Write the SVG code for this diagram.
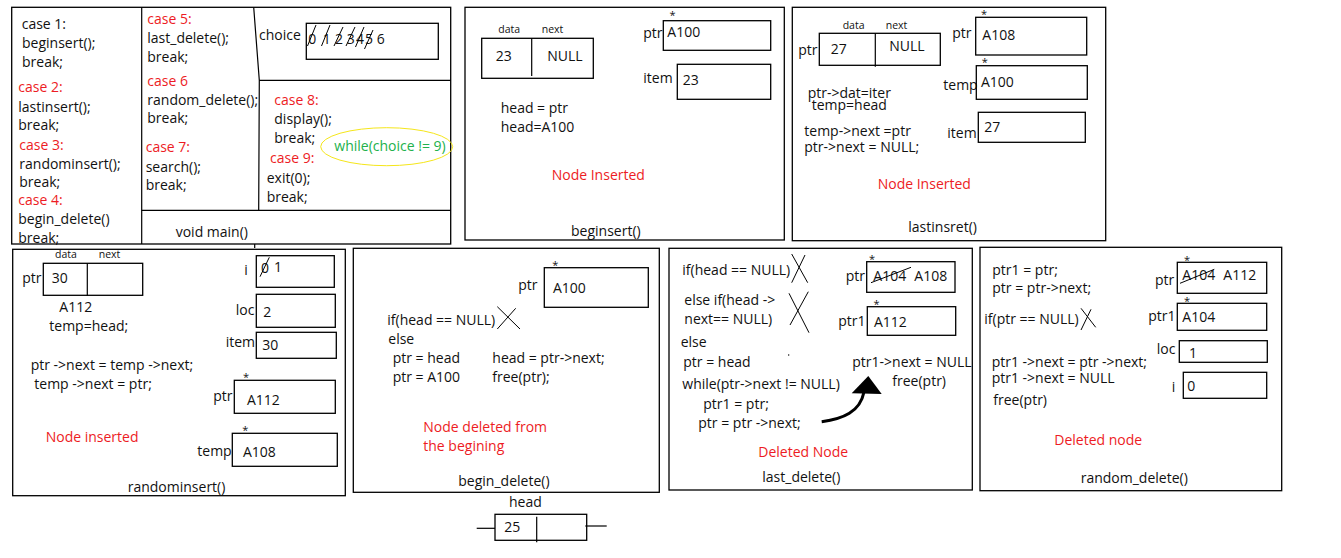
<svg xmlns="http://www.w3.org/2000/svg" width="1341" height="558" viewBox="0 0 1341 558">
<style>
text{font-family:"Open Sans","Noto Sans","DejaVu Sans",sans-serif;font-size:14px;fill:#111}
.r{fill:#ed1c24}
.g{fill:#22b14c}
.s{font-size:10.5px}
.st{font-size:11px}
.b{fill:none;stroke:#000;stroke-width:1.3}
.l{stroke:#000;stroke-width:1.2;fill:none}
.x{stroke:#000;stroke-width:1;fill:none}
</style>
<rect width="1341" height="558" fill="#fff"/>

<g id="main">
<rect class="b" x="11.7" y="7.3" width="439" height="236.7"/>
<line class="l" x1="141.7" y1="7.3" x2="141.7" y2="244"/>
<line class="l" x1="141.7" y1="210.3" x2="450.7" y2="210.3"/>
<polyline class="l" points="253.7,7.3 259.3,80.3 258.7,210.3"/>
<line class="l" x1="259.3" y1="80.3" x2="450.7" y2="80.3"/>
<line class="l" x1="254.7" y1="244" x2="254.7" y2="248"/>
<rect class="b" x="306.3" y="23.3" width="132" height="36"/>
<text x="21.7" y="29.3">case 1:</text>
<text x="22" y="48">beginsert();</text>
<text x="22" y="66.7">break;</text>
<text class="r" x="18.3" y="92">case 2:</text>
<text x="18.3" y="111.7">lastinsert();</text>
<text x="18.3" y="130">break;</text>
<text class="r" x="19.3" y="150">case 3:</text>
<text x="19.3" y="169">randominsert();</text>
<text x="19.3" y="187.3">break;</text>
<text class="r" x="18.3" y="205">case 4:</text>
<text x="18.3" y="224">begin_delete()</text>
<text x="18.3" y="242.7">break;</text>
<text class="r" x="147.3" y="24">case 5:</text>
<text x="147.3" y="43">last_delete();</text>
<text x="147.3" y="61.7">break;</text>
<text class="r" x="147.3" y="86">case 6</text>
<text x="147.3" y="105">random_delete();</text>
<text x="147.3" y="123.3">break;</text>
<text class="r" x="145.7" y="152.3">case 7:</text>
<text x="145.7" y="171.7">search();</text>
<text x="145.7" y="190">break;</text>
<text x="259" y="40">choice</text>
<text x="308.3" y="44.3">0</text>
<text x="322.7" y="44.3">1</text>
<text x="335" y="44.3">2</text>
<text x="346.7" y="44.3">3</text>
<text x="356" y="44.3">4</text>
<text x="365" y="44.3">5</text>
<text x="376.7" y="44.3">6</text>
<line class="x" x1="307.5" y1="46" x2="316" y2="25"/>
<line class="x" x1="321.5" y1="46" x2="330" y2="25"/>
<line class="x" x1="334" y1="46" x2="343" y2="27"/>
<line class="x" x1="346" y1="46" x2="355" y2="27"/>
<line class="x" x1="355.5" y1="47" x2="364" y2="27"/>
<line class="x" x1="364.5" y1="49" x2="373" y2="30"/>
<text class="r" x="274.3" y="105.3">case 8:</text>
<text x="274.3" y="124">display();</text>
<text x="274.3" y="143.3">break;</text>
<text class="r" x="270" y="163.3">case 9:</text>
<text x="266.7" y="182.7">exit(0);</text>
<text x="266.7" y="201.7">break;</text>
<ellipse cx="386.7" cy="146.7" rx="66" ry="19" fill="none" stroke="#f5e61a" stroke-width="1"/>
<text class="g" x="334.3" y="150.7">while(choice != 9)</text>
<text x="175.7" y="237.3">void main()</text>
</g>

<g id="beginsert">
<rect class="b" x="465" y="7.3" width="319.3" height="232.7"/>
<rect class="b" x="481.7" y="38.3" width="111.6" height="40"/>
<line class="l" x1="531.7" y1="38.3" x2="531.7" y2="76"/>
<text class="s" x="498.3" y="33.3">data</text>
<text class="s" x="541.7" y="33.3">next</text>
<text x="495.7" y="60.7">23</text>
<text x="547.3" y="60.7">NULL</text>
<text x="643.3" y="38.3">ptr</text>
<text class="st" x="669.5" y="19">*</text>
<rect class="b" x="663.3" y="20.7" width="107.4" height="29.6"/>
<text x="667.3" y="37.3">A100</text>
<text x="643.3" y="83.3">item</text>
<rect class="b" x="677.3" y="64.3" width="93.4" height="35"/>
<text x="682.7" y="85">23</text>
<text x="500.7" y="113.3">head = ptr</text>
<text x="500.7" y="132.3">head=A100</text>
<text class="r" x="551.7" y="180">Node Inserted</text>
<text x="571" y="236">beginsert()</text>
</g>

<g id="lastinsert">
<rect class="b" x="792.3" y="7.3" width="313.4" height="233.4"/>
<rect class="b" x="819.3" y="33.3" width="121" height="32"/>
<line class="l" x1="875.3" y1="33.3" x2="875.3" y2="66.7"/>
<text class="s" x="842.7" y="29.3">data</text>
<text class="s" x="885.7" y="29.3">next</text>
<text x="798.3" y="55">ptr</text>
<text x="830.7" y="54.3">27</text>
<text x="889.3" y="50.7">NULL</text>
<text x="952.3" y="38.3">ptr</text>
<text class="st" x="981" y="17.5">*</text>
<rect class="b" x="975.7" y="17.3" width="111" height="37.7"/>
<text x="982.3" y="40">A108</text>
<text x="943.3" y="90">temp</text>
<text class="st" x="981.7" y="65.5">*</text>
<rect class="b" x="976.3" y="65.7" width="111" height="33.6"/>
<text x="981" y="87.3">A100</text>
<text x="947.3" y="138.3">item</text>
<rect class="b" x="978.3" y="112.3" width="107" height="30"/>
<text x="984.3" y="131.7">27</text>
<text x="807.7" y="97.7">ptr-&gt;dat=iter</text>
<text x="811.7" y="110">temp=head</text>
<text x="804.3" y="135.7">temp-&gt;next =ptr</text>
<text x="804.3" y="152.3">ptr-&gt;next = NULL;</text>
<text class="r" x="877.7" y="189">Node Inserted</text>
<text x="908.3" y="231.7">lastinsret()</text>
</g>

<g id="randominsert">
<rect class="b" x="12.7" y="249.3" width="332.6" height="246.4"/>
<rect class="b" x="43.3" y="263.3" width="99.4" height="32"/>
<line class="l" x1="87.3" y1="263.3" x2="87.3" y2="296"/>
<text class="s" x="55" y="258.3">data</text>
<text class="s" x="98.7" y="258.3">next</text>
<text x="22.3" y="283.3">ptr</text>
<text x="51.7" y="283.3">30</text>
<text x="59.3" y="311.7">A112</text>
<text x="49.3" y="330.7">temp=head;</text>
<text x="30.7" y="370">ptr -&gt;next = temp -&gt;next;</text>
<text x="34.3" y="389">temp -&gt;next = ptr;</text>
<text class="r" x="45.7" y="441.7">Node inserted</text>
<text x="127.7" y="491.7">randominsert()</text>
<text x="244.3" y="275">i</text>
<rect class="b" x="256.3" y="255.7" width="78" height="31.6"/>
<text x="261" y="273.3">0</text>
<text x="274" y="271.7">1</text>
<line class="x" x1="260" y1="276.7" x2="269.3" y2="257.3"/>
<text x="235.7" y="315">loc</text>
<rect class="b" x="256.3" y="294.3" width="79" height="33"/>
<text x="263.3" y="317.3">2</text>
<text x="225.7" y="347.3">item</text>
<rect class="b" x="256.3" y="332.3" width="80" height="26"/>
<text x="262.3" y="350">30</text>
<text class="st" x="243" y="381">*</text>
<text x="213.3" y="401">ptr</text>
<rect class="b" x="234.3" y="380.3" width="101" height="33"/>
<text x="247" y="405">A112</text>
<text class="st" x="242.3" y="434">*</text>
<text x="197.3" y="456">temp</text>
<rect class="b" x="232.3" y="433.3" width="105" height="33"/>
<text x="243" y="457.3">A108</text>
</g>

<g id="begin_delete">
<rect class="b" x="353.3" y="248.3" width="306" height="244"/>
<text x="518.3" y="290">ptr</text>
<text class="st" x="552.3" y="268.5">*</text>
<rect class="b" x="544.3" y="267.7" width="104" height="39.6"/>
<text x="553" y="293.3">A100</text>
<text x="387.3" y="325">if(head == NULL)</text>
<line class="x" x1="497.3" y1="306.7" x2="520" y2="329"/>
<line class="x" x1="497.3" y1="329" x2="515.7" y2="308.3"/>
<text x="388.3" y="344">else</text>
<text x="392.7" y="363.3">ptr = head</text>
<text x="392.7" y="381.7">ptr = A100</text>
<text x="492.3" y="363.3">head = ptr-&gt;next;</text>
<text x="492.3" y="381.7">free(ptr);</text>
<text class="r" x="423.3" y="431.7">Node deleted from</text>
<text class="r" x="423.3" y="450.7">the begining</text>
<text x="458.3" y="485.7">begin_delete()</text>
</g>

<g id="last_delete">
<rect class="b" x="669" y="248.3" width="303.3" height="241.7"/>
<text x="682.3" y="275">if(head == NULL)</text>
<line class="x" x1="791.7" y1="254" x2="807.7" y2="282.7"/>
<line class="x" x1="791.7" y1="282.7" x2="805" y2="255"/>
<text x="684.3" y="305">else if(head -&gt;</text>
<text x="684.3" y="324">next== NULL)</text>
<line class="x" x1="789" y1="293.3" x2="809" y2="332.7"/>
<line class="x" x1="790" y1="325" x2="808.3" y2="291.7"/>
<text x="680.7" y="347.3">else</text>
<text x="683.3" y="366.7">ptr = head</text>
<circle cx="788.7" cy="355" r="0.7" fill="#000"/>
<text x="682.3" y="389">while(ptr-&gt;next != NULL)</text>
<text x="703.3" y="409.3">ptr1 = ptr;</text>
<text x="698.3" y="428.3">ptr = ptr -&gt;next;</text>
<text class="r" x="758.3" y="456.7">Deleted Node</text>
<text x="762.3" y="482.3">last_delete()</text>
<text x="845.7" y="281">ptr</text>
<text class="st" x="869" y="262.5">*</text>
<rect class="b" x="866.7" y="261.7" width="88.3" height="30.6"/>
<text x="873.3" y="280.7">A104</text>
<line class="x" x1="871" y1="282.7" x2="911" y2="267.3"/>
<text x="914.3" y="280.7">A108</text>
<text x="838.3" y="326">ptr1</text>
<text class="st" x="873.5" y="307.5">*</text>
<rect class="b" x="867.3" y="306.7" width="88.4" height="28.6"/>
<text x="874" y="327.3">A112</text>
<text x="852.3" y="366.7">ptr1-&gt;next = NULL</text>
<text x="892.3" y="385.7">free(ptr)</text>
</g>

<g id="random_delete">
<rect class="b" x="980" y="247.3" width="301.7" height="243.4"/>
<text x="992.3" y="275">ptr1 = ptr;</text>
<text x="992.3" y="293.3">ptr = ptr-&gt;next;</text>
<text x="984.3" y="324">if(ptr == NULL)</text>
<line class="x" x1="1081" y1="308.3" x2="1095.7" y2="327.3"/>
<line class="x" x1="1081" y1="330" x2="1091" y2="309.3"/>
<text x="991.7" y="366.7">ptr1 -&gt;next = ptr -&gt;next;</text>
<text x="991.7" y="383.3">ptr1 -&gt;next  = NULL</text>
<text x="993.3" y="405">free(ptr)</text>
<text class="r" x="1054.3" y="445">Deleted node</text>
<text x="1080.7" y="483.3">random_delete()</text>
<text x="1155" y="285">ptr</text>
<text class="st" x="1184" y="263.5">*</text>
<rect class="b" x="1177.3" y="262.3" width="89.4" height="31"/>
<text x="1182.3" y="280">A104</text>
<line class="x" x1="1180" y1="283.3" x2="1214.3" y2="269.3"/>
<text x="1223.3" y="280">A112</text>
<text x="1148.3" y="321">ptr1</text>
<text class="st" x="1184" y="304.5">*</text>
<rect class="b" x="1177.3" y="303.3" width="89.4" height="27"/>
<text x="1182.3" y="321.7">A104</text>
<text x="1156.7" y="354">loc</text>
<rect class="b" x="1179.3" y="340.7" width="88" height="21.6"/>
<text x="1189" y="358.3">1</text>
<text x="1171.7" y="391.7">i</text>
<rect class="b" x="1183.3" y="372.3" width="83.4" height="26"/>
<text x="1187.3" y="390.7">0</text>
</g>

<g id="head">
<text x="509" y="507.3">head</text>
<rect class="b" x="495" y="514.3" width="91.7" height="26"/>
<line class="l" x1="536.7" y1="516.7" x2="536.7" y2="542.3"/>
<text x="504.3" y="531.7">25</text>
</g>

<g id="connectors">
<line class="l" x1="476.7" y1="528.3" x2="495" y2="528.3"/>
<line class="l" x1="585.3" y1="526" x2="606.7" y2="526"/>
<path d="M821.7,421.7 C843,419 860,412 864,392" fill="none" stroke="#000" stroke-width="3"/>
<polygon points="868.3,376 851.7,393.3 881.7,394" fill="#000"/>
</g>
</svg>
